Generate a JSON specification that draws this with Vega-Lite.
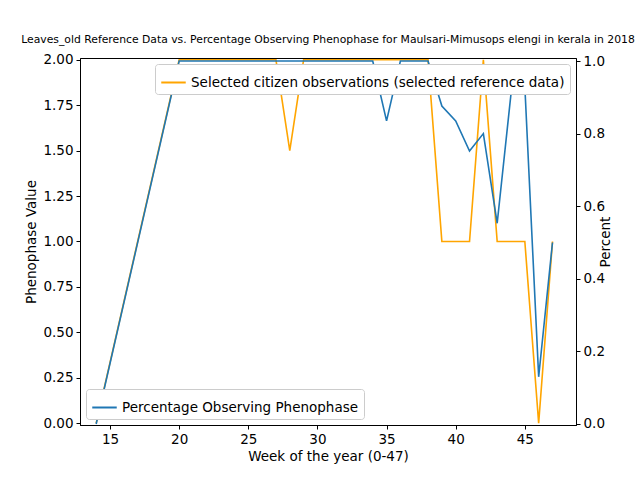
{
  "$schema": "https://vega.github.io/schema/vega-lite/v6.json",
  "width": 496, "height": 367,
  "autosize": {"type": "none"},
  "padding": {"left": 80, "top": 58, "right": 64, "bottom": 55},
  "background": "white",
  "title": {"text": "Leaves_old Reference Data vs. Percentage Observing Phenophase for Maulsari-Mimusops elengi in kerala in 2018", "fontSize": 10.8, "fontWeight": "normal", "font": "DejaVu Sans", "color": "black", "anchor": "middle", "offset": 8, "dx": 0},
  "config": {
    "font": "DejaVu Sans",
    "view": {"stroke": "black", "strokeWidth": 1},
    "axis": {"grid": false, "domainColor": "black", "tickColor": "black", "labelColor": "black", "titleColor": "black", "labelFontSize": 13.5, "titleFontSize": 13.5, "titleFontWeight": "normal", "tickSize": 4, "labelPadding": 3},
    "legend": {"labelFontSize": 13.5, "labelColor": "black", "strokeColor": "#cccccc", "fillColor": "white", "padding": 5, "cornerRadius": 3, "symbolType": "stroke", "symbolStrokeWidth": 2, "symbolSize": 600, "offset": 6, "labelLimit": 600}
  },
  "data": {"values": [
    {"week": 14, "ref": 0, "pct": 0},
    {"week": 20, "ref": 2, "pct": 1},
    {"week": 27, "ref": 2, "pct": 1},
    {"week": 28, "ref": 1.5, "pct": 1},
    {"week": 29, "ref": 2, "pct": 1},
    {"week": 34, "ref": 2, "pct": 1},
    {"week": 35, "ref": 2, "pct": 0.835},
    {"week": 36, "ref": 2, "pct": 1},
    {"week": 38, "ref": 2, "pct": 1},
    {"week": 39, "ref": 1, "pct": 0.876},
    {"week": 40, "ref": 1, "pct": 0.835},
    {"week": 41, "ref": 1, "pct": 0.752},
    {"week": 42, "ref": 2, "pct": 0.8},
    {"week": 43, "ref": 1, "pct": 0.553},
    {"week": 44, "ref": 1, "pct": 0.91},
    {"week": 45, "ref": 1, "pct": 0.93},
    {"week": 46, "ref": 0, "pct": 0.13},
    {"week": 47, "ref": 1, "pct": 0.5}
  ]},
  "encoding": {
    "x": {"field": "week", "type": "quantitative", "title": "Week of the year (0-47)",
      "scale": {"domain": [12.83, 48.7], "nice": false, "zero": false},
      "axis": {"values": [15, 20, 25, 30, 35, 40, 45]}}
  },
  "layer": [
    {
      "transform": [{"calculate": "'Selected citizen observations (selected reference data)'", "as": "s1"}],
      "mark": {"type": "line", "color": "orange", "strokeWidth": 1.6},
      "encoding": {
        "y": {"field": "ref", "type": "quantitative", "title": "Phenophase Value",
          "scale": {"domain": [-0.01, 2.01], "nice": false, "zero": false},
          "axis": {"values": [0, 0.25, 0.5, 0.75, 1, 1.25, 1.5, 1.75, 2], "format": ".2f", "orient": "left"}},
        "color": {"field": "s1", "type": "nominal", "title": null,
          "scale": {"range": ["orange"]},
          "legend": {"orient": "top-right", "offset": 6}}
      }
    },
    {
      "transform": [{"calculate": "'Percentage Observing Phenophase'", "as": "s2"}],
      "mark": {"type": "line", "color": "#1f77b4", "strokeWidth": 1.6},
      "encoding": {
        "y": {"field": "pct", "type": "quantitative", "title": "Percent",
          "scale": {"domain": [-0.0028, 1.0083], "nice": false, "zero": false},
          "axis": {"values": [0, 0.2, 0.4, 0.6, 0.8, 1], "format": ".1f", "orient": "right", "titleAngle": 270, "titlePadding": 8}},
        "stroke": {"field": "s2", "type": "nominal", "title": null,
          "scale": {"range": ["#1f77b4"]},
          "legend": {"orient": "bottom-left", "offset": 6}}
      }
    }
  ],
  "resolve": {"scale": {"y": "independent", "color": "independent", "stroke": "independent"}, "legend": {"color": "independent"}}
}
